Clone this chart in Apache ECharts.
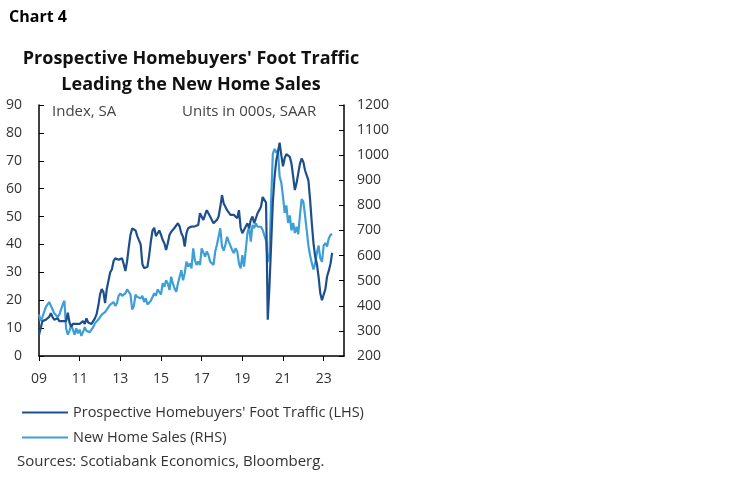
<!DOCTYPE html>
<html>
  <head>
    <meta charset="utf-8" />
    <title>Chart 4</title>
    <script src="https://cdn.jsdelivr.net/npm/echarts/dist/echarts.min.js"></script>
    <style>
      body { margin: 0; background: #fff; }
    </style>
  </head>
  <body>
    <div id="main" style="width: 750px; height: 482px;"></div>
    <script type="text/javascript">
      // monthly, Jan 2009 .. Jun 2023 (one row per year)
      var footTraffic = [
        7.5, 10, 12.5, 12.5, 13, 13.5, 14, 15.3, 14, 13, 13, 13.5,
        12.5, 12, 12.5, 13, 12.5, 15.5, 12, 10.5, 11.5, 11, 11.5, 11.5,
        11.5, 12, 12.5, 11.5, 13.5, 12, 12, 11.5, 12.5, 13.5, 15, 18,
        22, 24, 23, 19, 24, 27, 30, 31, 34, 35, 35.5, 34.5,
        34, 35, 33, 30.5, 34, 39, 43.5, 45.7, 45.7, 45, 43, 43.5,
        40, 33, 31.5, 31, 32, 36, 41, 45, 46, 43, 44, 45,
        43.4, 41.6, 40.4, 38, 40.4, 43.4, 44.5, 45.2, 46, 46.4, 47.6, 46.4,
        44, 42.8, 39.2, 44, 45.8, 45.2, 46.4, 45.8, 46.5, 46.4, 47, 51.2,
        51.8, 48.8, 50.6, 52.3, 51.8, 50, 48.8, 47.6, 48.2, 48.8, 50, 53.5,
        57.7, 54.7, 53.5, 52.3, 51.8, 50.6, 50, 50.6, 51.2, 49.4, 52.3, 46,
        44, 44.6, 46.4, 47.6, 45.8, 48.8, 50, 47.6, 49.4, 51.2, 52.3, 53.5,
        57, 57.7, 55, 13, 25, 40, 55, 64, 70, 73, 76.5, 72,
        68, 71, 72.4, 73, 71.4, 69, 64.3, 59.5, 62, 65.5, 69, 70.8,
        69.6, 66.6, 66, 63, 56, 47.6, 40.4, 35.6, 33, 28.4, 22.5, 20,
        20, 24, 28.5, 30.5, 33, 37
      ];
      var newHomeSales = [
        365, 340, 355, 375, 395, 405, 415, 400, 385, 370, 375, 355,
        365, 385, 405, 420, 310, 285, 300, 325, 305, 285, 310, 290,
        305, 280, 295, 315, 300, 305, 295, 305, 315, 330, 335, 345,
        355, 365, 370, 375, 385, 395, 405, 400, 415, 400, 410, 440,
        450, 440, 445, 450, 465, 470, 445, 385, 400, 445, 435, 440,
        430, 440, 415, 430, 405, 400, 420, 425, 450, 440, 465, 470,
        445, 490, 476, 502, 489, 463, 516, 489, 469, 456, 489, 516,
        542, 502, 529, 576, 556, 569, 549, 629, 582, 563, 576, 563,
        629, 622, 596, 616, 602, 576, 569, 563, 616, 643, 649, 709,
        636, 620, 643, 675, 656, 649, 622, 610, 629, 616, 569, 549,
        602, 556, 622, 689, 715, 656, 722, 709, 728, 715, 722, 715,
        702, 696, 660, 575, 600, 820, 1005, 1025, 1010, 1020, 915, 890,
        835, 770, 800, 730, 760, 700, 730, 690, 715, 685, 760, 825,
        815, 760, 700, 640, 600, 570, 545, 570, 610, 640, 590, 575,
        640, 650, 636, 668, 682, 686
      ];
      var leftTicks = [0, 90, 10];
      var rightTicks = [200, 1200, 100];

      // axis runs Jan 2009 .. Jan 2024
      var months = [];
      for (var y = 2009; y <= 2024; y++) {
        for (var mo = 1; mo <= 12; mo++) {
          months.push(y + '-' + (mo < 10 ? '0' + mo : mo));
          if (y === 2024) break;
        }
      }

      var font = 'Open Sans';
      var labelColor = '#333';

      var myChart = echarts.init(document.getElementById('main'));

      var option = {
        animation: false,
        backgroundColor: '#fff',
        title: [
          {
            text: 'Chart 4',
            left: 4,
            top: 4,
            textStyle: { fontFamily: font, fontWeight: 'bold', fontSize: 16, color: '#000' }
          },
          {
            text: "Prospective Homebuyers' Foot Traffic\nLeading the New Home Sales",
            left: 186,
            top: 41,
            textAlign: 'center',
            textStyle: { fontFamily: font, fontWeight: 'bold', fontSize: 18, color: '#111', lineHeight: 26 }
          }
        ],
        grid: { left: 39, right: 406, top: 105, bottom: 126 },
        legend: {
          orient: 'vertical',
          left: 22,
          top: 405,
          padding: 0,
          icon: 'rect',
          itemWidth: 46,
          itemHeight: 2,
          itemGap: 10,
          textStyle: { fontFamily: font, fontSize: 14.5, color: labelColor },
          data: ["Prospective Homebuyers' Foot Traffic (LHS)", 'New Home Sales (RHS)']
        },
        graphic: [
          {
            type: 'text', left: 52, top: 104,
            style: { text: 'Index, SA', font: '15px "Open Sans"', fill: '#444' }
          },
          {
            type: 'text', left: 182, top: 104,
            style: { text: 'Units in 000s, SAAR', font: '15px "Open Sans"', fill: '#444' }
          },
          {
            type: 'text', left: 17, top: 454,
            style: { text: 'Sources: Scotiabank Economics, Bloomberg.', font: '15px "Open Sans"', fill: labelColor }
          }
        ],
        xAxis: {
          type: 'category',
          boundaryGap: false,
          data: months,
          axisLine: { lineStyle: { color: '#000', width: 1.5 } },
          axisTick: {
            inside: false,
            length: 5,
            lineStyle: { color: '#000' },
            interval: function (i) { return i % 24 === 0; }
          },
          axisLabel: {
            interval: function (i) { return i % 24 === 0; },
            formatter: function (v) { return v.slice(2, 4); },
            fontFamily: font,
            fontSize: 14,
            color: labelColor,
            margin: 16
          },
          splitLine: { show: false }
        },
        yAxis: [
          {
            type: 'value',
            position: 'left',
            min: leftTicks[0],
            max: leftTicks[1],
            interval: leftTicks[2],
            axisLine: { show: true, lineStyle: { color: '#000', width: 1.5 } },
            axisTick: { show: true, inside: true, length: 5, lineStyle: { color: '#000' } },
            axisLabel: { fontFamily: font, fontSize: 14, color: labelColor, margin: 17 },
            splitLine: { show: false }
          },
          {
            type: 'value',
            position: 'right',
            min: rightTicks[0],
            max: rightTicks[1],
            interval: rightTicks[2],
            axisLine: { show: true, lineStyle: { color: '#000', width: 1.5 } },
            axisTick: { show: true, inside: true, length: 5, lineStyle: { color: '#000' } },
            axisLabel: {
              fontFamily: font, fontSize: 14, color: labelColor, margin: 13,
              formatter: function (v) { return String(v); }
            },
            splitLine: { show: false }
          }
        ],
        series: [
          {
            name: "Prospective Homebuyers' Foot Traffic (LHS)",
            type: 'line',
            yAxisIndex: 0,
            data: footTraffic,
            symbol: 'none',
            z: 3,
            lineStyle: { color: '#1d4f8c', width: 2.2 },
            itemStyle: { color: '#1d4f8c' }
          },
          {
            name: 'New Home Sales (RHS)',
            type: 'line',
            yAxisIndex: 1,
            data: newHomeSales,
            symbol: 'none',
            z: 2,
            lineStyle: { color: '#3d9fd6', width: 2.2 },
            itemStyle: { color: '#3d9fd6' }
          }
        ]
      };

      myChart.setOption(option);
    </script>
  </body>
</html>
